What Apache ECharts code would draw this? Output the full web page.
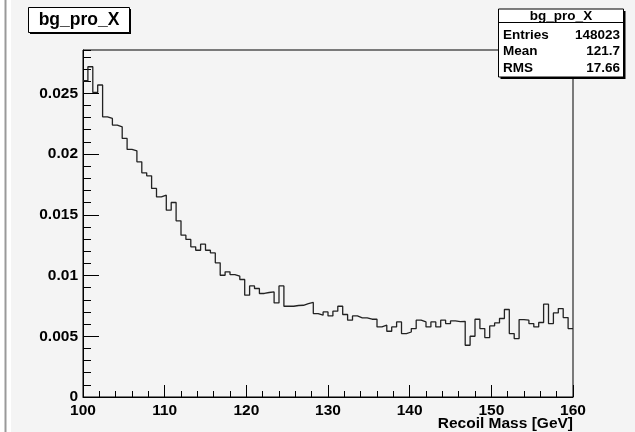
<!DOCTYPE html>
<html>
<head>
<meta charset="utf-8">
<script src="https://cdn.jsdelivr.net/npm/echarts@6/dist/echarts.min.js"></script>
<style>
html,body{margin:0;padding:0;background:#f4f4f4;}
#c{width:635px;height:432px;}
</style>
</head>
<body>
<div id="c"></div>
<script>
// Histogram: 100 bins of 0.6 GeV from 100 to 160
const histTitle = "bg_pro_X";
const xAxisTitle = "Recoil Mass [GeV]";
const xMin = 100, xMax = 160, binWidth = 0.6;
const yMax = 0.02856;
const binValues = [
  0.02603, 0.02718, 0.02507, 0.02568, 0.02306, 0.02293, 0.02238, 0.02224, 0.02128, 0.02038,
  0.02026, 0.01936, 0.01845, 0.01820, 0.01717, 0.01647, 0.01661, 0.01538, 0.01601, 0.01450,
  0.01332, 0.01297, 0.01236, 0.01208, 0.01258, 0.01208, 0.01186, 0.01104, 0.01002, 0.01030,
  0.01008, 0.00994, 0.00967, 0.00838, 0.00914, 0.00893, 0.00852, 0.00860, 0.00865, 0.00774,
  0.00914, 0.00747, 0.00747, 0.00753, 0.00755, 0.00769, 0.00778, 0.00687, 0.00673, 0.00700,
  0.00667, 0.00706, 0.00747, 0.00679, 0.00632, 0.00667, 0.00651, 0.00651, 0.00640, 0.00640,
  0.00577, 0.00591, 0.00541, 0.00577, 0.00618, 0.00522, 0.00535, 0.00563, 0.00632, 0.00618,
  0.00577, 0.00618, 0.00577, 0.00632, 0.00604, 0.00626, 0.00621, 0.00623, 0.00426, 0.00500,
  0.00640, 0.00563, 0.00489, 0.00585, 0.00610, 0.00646, 0.00720, 0.00522, 0.00481, 0.00637,
  0.00632, 0.00604, 0.00577, 0.00613, 0.00764, 0.00604, 0.00692, 0.00728, 0.00654, 0.00563
];
const statLabels = ["Entries", "Mean", "RMS"];
const statValues = ["148023", "121.7", "17.66"];

const pts = binValues.map((v, i) => [xMin + i * binWidth, v]);
pts.push([xMax, binValues[binValues.length - 1]]);

const FONT = "'Liberation Sans', Arial, Helvetica, sans-serif";
const chart = echarts.init(document.getElementById('c'), null, {renderer: 'canvas'});

const statsChildren = [
  {type:'rect', shape:{x:500.5, y:11, width:125, height:68}, style:{fill:'#000'}},
  {type:'rect', shape:{x:498.5, y:9, width:125, height:68}, style:{fill:'#fff', stroke:'#000', lineWidth:1}},
  {type:'line', shape:{x1:498.5, y1:22.5, x2:623.5, y2:22.5}, style:{stroke:'#000', lineWidth:1}},
  {type:'text', x:561, y:16, style:{text:histTitle, font:"bold 13.5px " + FONT, fill:'#000', textAlign:'center', textVerticalAlign:'middle'}}
];
statLabels.forEach((l, i) => {
  statsChildren.push({type:'text', x:503, y:35 + i * 16.6, style:{text:l, font:"bold 13.5px " + FONT, fill:'#000', textAlign:'left', textVerticalAlign:'middle'}});
  statsChildren.push({type:'text', x:620, y:35 + i * 16.6, style:{text:statValues[i], font:"bold 13.5px " + FONT, fill:'#000', textAlign:'right', textVerticalAlign:'middle'}});
});

chart.setOption({
  backgroundColor: '#f4f4f4',
  animation: false,
  grid: {left:83, right:62, top:50, bottom:35, show:true, borderColor:'#000', borderWidth:1, backgroundColor:'transparent'},
  xAxis: {
    type:'value', min:xMin, max:xMax, interval:10,
    axisLine:{show:true, onZero:false, lineStyle:{color:'#000', width:1}},
    axisTick:{show:true, inside:true, length:12, lineStyle:{color:'#000'}},
    minorTick:{show:true, splitNumber:5, length:6, lineStyle:{color:'#000'}},
    splitLine:{show:false},
    axisLabel:{color:'#000', fontFamily:FONT, fontWeight:'bold', fontSize:15.5, margin:6}
  },
  yAxis: [{
    type:'value', min:0, max:yMax, interval:0.005, position:'left',
    axisLine:{show:true, onZero:false, lineStyle:{color:'#000', width:1}},
    axisTick:{show:true, inside:true, length:16, lineStyle:{color:'#000'}},
    splitLine:{show:false},
    axisLabel:{color:'#000', fontFamily:FONT, fontWeight:'bold', fontSize:15.5, margin:5, showMaxLabel:false,
      formatter: v => v === 0 ? '0' : String(+v.toFixed(3))}
  }, {
    type:'value', min:0, max:yMax, interval:0.001, position:'left',
    axisLine:{show:false},
    axisTick:{show:true, inside:true, length:8, lineStyle:{color:'#000'}},
    splitLine:{show:false},
    axisLabel:{show:false}
  }],
  series: [{
    type:'line', step:'end', data:pts, yAxisIndex:0, symbol:'none', clip:true,
    lineStyle:{color:'#222', width:1.3}
  }],
  graphic: [
    {type:'rect', shape:{x:0, y:0, width:11, height:432}, style:{fill:'#ffffff'}},
    {type:'line', shape:{x1:5.5, y1:0, x2:5.5, y2:432}, style:{stroke:'#999', lineWidth:2}},
    {type:'rect', shape:{x:30, y:9, width:101, height:25}, style:{fill:'#000'}},
    {type:'rect', shape:{x:28.5, y:7.5, width:101, height:25}, style:{fill:'#fff', stroke:'#000', lineWidth:1}},
    {type:'text', x:79, y:20, style:{text:histTitle, font:"bold 17.5px " + FONT, fill:'#000', textAlign:'center', textVerticalAlign:'middle'}},
    {type:'group', children: statsChildren},
    {type:'text', x:573, y:424, style:{text:xAxisTitle, font:"bold 15.5px " + FONT, fill:'#000', textAlign:'right', textVerticalAlign:'middle'}}
  ]
});
</script>
</body>
</html>
